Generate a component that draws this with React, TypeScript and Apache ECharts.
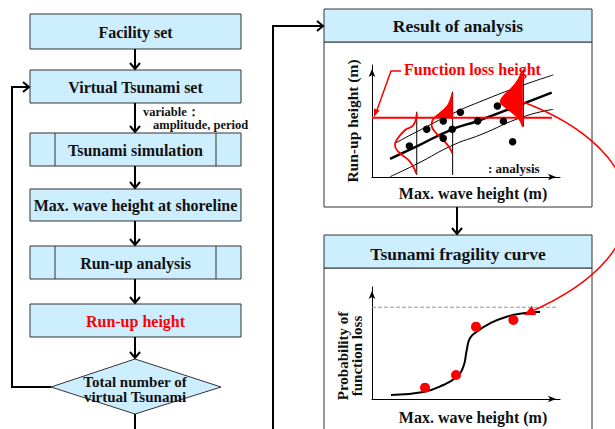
import React, { useEffect, useRef } from 'react';
import * as echarts from 'echarts';

// ---------- data (abstract units 0-100 on both axes of each small plot) ----------
const analysisPoints: number[][] = [
  [19.9, 27.7], [29.1, 42.6], [37.9, 50], [37.9, 34.5], [42.7, 42.6],
  [47, 57.8], [56.2, 50], [66.7, 63.4], [69.9, 49.7], [74.8, 31.5],
];
const meanCurve: number[][] = [[9.6, 16.1], [23.8, 27.4], [42.7, 42.6], [56.2, 50], [80.5, 65.5], [95.6, 75.3]];
const upperCurve: number[][] = [[12.2, 30.1], [23.8, 40.4], [43.2, 56.9], [57.4, 67.2], [80.5, 82.1], [96.4, 91.1]];
const lowerCurve: number[][] = [[9.6, 0.3], [23.8, 11.6], [43.2, 28.6], [57.4, 37.5], [80.5, 53.8], [96.4, 60.4]];
const analysisVerticals: number[][][] = [
  [[23.8, 58.3], [23.8, 1.8]],
  [[42.9, 76.2], [42.9, 1.8]],
  [[80.5, 95.5], [80.5, 44.9]],
];
const bell1: number[][] = [[23.8, 57], [22, 46.4], [17.6, 42], [13.1, 33], [12.2, 28.6], [14, 22.6], [19.3, 15.2], [22, 9.2], [23.5, 3]];
const bell2: number[][] = [[42.8, 75], [40.6, 64.3], [36.2, 56.9], [32.3, 50.9], [31.7, 46.4], [33.5, 40.4], [37.9, 33], [41.1, 26.5], [42.7, 21]];
const bell2Fill: number[][] = [[42.9, 52.9], [33.6, 52.9], [36.2, 56.9], [40.6, 64.3], [42.8, 75]];
const bell3: number[][] = [[80.1, 95], [77.8, 86.6], [74.3, 79.2], [69.9, 71.7], [68.4, 67.2], [70.7, 62.8], [75.2, 56.9], [78.7, 50.9], [80.2, 45]];
const functionLossLevel = 52.9;
const functionLossSpan = [0, 95.7];

const fragilityCurve: number[][] = [
  [10.1, 3.6], [27.3, 6.3], [37.9, 12.5], [45, 19.9], [48.6, 28.9], [50.4, 43.8],
  [52.1, 54.2], [55.7, 60.1], [62.8, 67.6], [71.6, 73.5], [80.5, 76.5], [89.4, 77.6],
];
const fragilityPoints: number[][] = [[28.2, 10.1], [44.7, 21.4], [55.3, 64.6], [75.2, 70.5]];
const fragilityMax = 81.9;
const fragilitySpan = [0, 98];

const flowSteps = ['Facility set', 'Virtual Tsunami set', 'Tsunami simulation', 'Max. wave height at shoreline', 'Run-up analysis', 'Run-up height'];
const diamondLines = ['Total number of', 'virtual Tsunami'];

// ---------- styles / layout ----------
const FONT = '"Liberation Serif", "Times New Roman", serif';
const BOX_FILL = '#cdeeff';
const BORDER = '#333333';
const RED = '#ff0000';
const flowLayout = [
  { y: 14, h: 35 }, { y: 70, h: 33 }, { y: 133, h: 33, sub: true },
  { y: 189, h: 32 }, { y: 246, h: 33, sub: true }, { y: 304, h: 33, red: true },
];

function txt(t: string, x: number, y: number, size: number, color = '#111', align = 'center', extra: any = {}) {
  return {
    type: 'text', x, y, z: 50, silent: true,
    style: {
      text: t, font: `bold ${size}px ${FONT}`, fill: color,
      align, verticalAlign: 'middle', textAlign: align, textVerticalAlign: 'middle', ...(extra.style || {}),
    },
    ...(extra.el || {}),
  };
}
function seg(pts: number[][], color = '#000', width = 2, z = 20) {
  return { type: 'polyline', z, silent: true, shape: { points: pts }, style: { stroke: color, lineWidth: width, fill: null } };
}
function arrowDown(x: number, y1: number, y2: number) {
  return [seg([[x, y1], [x, y2 - 1]]), seg([[x - 5, y2 - 7], [x, y2 - 1], [x + 5, y2 - 7]])];
}
function headPoly(tip: number[], from: number[], len: number, half: number, color: string) {
  const dx = tip[0] - from[0], dy = tip[1] - from[1];
  const d = Math.hypot(dx, dy);
  const ux = dx / d, uy = dy / d;
  const bx = tip[0] - ux * len, by = tip[1] - uy * len;
  return {
    type: 'polygon', z: 60, silent: true,
    shape: { points: [tip, [bx - uy * half, by + ux * half], [bx + uy * half, by - ux * half]] },
    style: { fill: color },
  };
}

function buildGraphics() {
  const g: any[] = [];
  flowSteps.forEach((label, i) => {
    const L = flowLayout[i];
    g.push({ type: 'rect', z: 10, silent: true, shape: { x: 30, y: L.y, width: 211, height: L.h }, style: { fill: BOX_FILL, stroke: BORDER, lineWidth: 1 } });
    if (L.sub) {
      g.push(seg([[55, L.y], [55, L.y + L.h]], BORDER, 1, 11));
      g.push(seg([[216, L.y], [216, L.y + L.h]], BORDER, 1, 11));
    }
    g.push(txt(label, 135.5, L.y + L.h / 2 + 0.5, 16, L.red ? RED : '#111'));
  });
  for (let i = 0; i < flowLayout.length - 1; i++) {
    const a = flowLayout[i], b = flowLayout[i + 1];
    g.push(...arrowDown(135, a.y + a.h, b.y));
  }
  // diamond
  g.push({ type: 'polygon', z: 10, silent: true, shape: { points: [[51, 387], [135, 359], [221, 387], [135, 414]] }, style: { fill: BOX_FILL, stroke: BORDER, lineWidth: 1 } });
  g.push(...arrowDown(135, 337, 359));
  g.push(txt(diamondLines.join('\n'), 135, 389.5, 15, '#111', 'center', { style: { lineHeight: 15 } }));
  g.push(seg([[135, 414], [135, 440]]));
  // loop back
  g.push(seg([[51, 387], [12, 387], [12, 87], [29, 87]]));
  g.push(seg([[23, 82], [29, 87], [23, 92]]));
  // variable text
  g.push(txt('variable：', 143, 111.5, 12.5, '#111', 'left'));
  g.push(txt('amplitude, period', 153, 125, 12.5, '#111', 'left'));
  // right connector
  g.push(seg([[273, 440], [273, 26], [323, 26]]));
  g.push(seg([[317, 21], [323, 26], [317, 31]]));

  // result box
  g.push({ type: 'rect', z: 0, silent: true, shape: { x: 324, y: 42, width: 268, height: 165 }, style: { fill: '#fff', stroke: BORDER, lineWidth: 1 } });
  g.push({ type: 'rect', z: 10, silent: true, shape: { x: 324, y: 9, width: 268, height: 33 }, style: { fill: BOX_FILL, stroke: BORDER, lineWidth: 1 } });
  g.push(txt('Result of analysis', 458, 26, 17.5));
  g.push(...arrowDown(457, 207, 235));
  // fragility box
  g.push({ type: 'rect', z: 0, silent: true, shape: { x: 324, y: 268, width: 268, height: 180 }, style: { fill: '#fff', stroke: BORDER, lineWidth: 1 } });
  g.push({ type: 'rect', z: 10, silent: true, shape: { x: 324, y: 235, width: 268, height: 33 }, style: { fill: BOX_FILL, stroke: BORDER, lineWidth: 1 } });
  g.push(txt('Tsunami fragility curve', 458, 254, 17.5));

  // analysis plot labels
  g.push(txt('Run-up height (m)', 352, 121, 15.5, '#111', 'center', { el: { rotation: Math.PI / 2 } }));
  g.push(txt('Max. wave height (m)', 473, 193, 16));
  g.push(txt(': analysis', 488, 168, 13, '#111', 'left'));
  g.push(txt('Function loss height', 404, 69, 16, RED, 'left'));
  g.push(seg([[401, 71], [391, 71], [377, 110]], RED, 1.5, 60));
  g.push(headPoly([374, 117], [391, 71], 8, 3, RED));

  // fragility plot labels
  g.push(txt('Probability of\nfunction loss', 350, 356, 15, '#111', 'center', { el: { rotation: Math.PI / 2 }, style: { lineHeight: 14 } }));
  g.push(txt('Max. wave height (m)', 473, 417, 16));

  // big red arrow
  const p0 = [523, 102], c1 = [650, 150], c2 = [672, 250], p3 = [530, 312];
  g.push({
    type: 'bezierCurve', z: 60, silent: true,
    shape: { x1: p0[0], y1: p0[1], cpx1: c1[0], cpy1: c1[1], cpx2: c2[0], cpy2: c2[1], x2: p3[0], y2: p3[1] },
    style: { stroke: RED, lineWidth: 1.5, fill: null },
  });
  g.push(headPoly([524, 315], [550, 303], 11, 5, RED));
  return g;
}

function polySeries(name: string, pts: number[][], idx: number, color: string, z: number) {
  return {
    type: 'custom', name, xAxisIndex: idx, yAxisIndex: idx, z, silent: true,
    data: pts.map((p, i) => [p[0], p[1], i]),
    renderItem: (params: any, api: any) => {
      if (params.dataIndex !== 0) return null;
      return { type: 'polygon', shape: { points: pts.map((p) => api.coord(p)) }, style: { fill: color, stroke: color, lineWidth: 0.5 } };
    },
  };
}
function lineSeries(pts: number[][], idx: number, color: string, width: number, z = 3, smooth: any = 0.5, type = 'solid') {
  return {
    type: 'line', xAxisIndex: idx, yAxisIndex: idx, data: pts, symbol: 'none', smooth, z, silent: true,
    lineStyle: { color, width, type },
  };
}

function axis(i: number) {
  return {
    type: 'value', gridIndex: i, min: 0, max: 100,
    axisLine: { show: true, onZero: false, lineStyle: { color: '#000', width: 1 }, symbol: ['none', 'arrow'], symbolSize: [5, 8], symbolOffset: [0, -4] },
    axisTick: { show: false }, axisLabel: { show: false }, splitLine: { show: false },
  };
}

export default function App() {
  const ref = useRef<HTMLDivElement>(null);
  useEffect(() => {
    const chart = echarts.init(ref.current!, null, { renderer: 'svg' });
    const series: any[] = [
      lineSeries(upperCurve, 0, '#000', 1, 2),
      lineSeries(meanCurve, 0, '#000', 2.5, 2),
      lineSeries(lowerCurve, 0, '#000', 1, 2),
      ...analysisVerticals.map((v) => lineSeries(v, 0, '#000', 1, 2, false)),
      polySeries('bell2fill', bell2Fill, 0, RED, 3),
      polySeries('bell3fill', bell3, 0, RED, 3),
      lineSeries(bell1, 0, RED, 1.8, 4),
      lineSeries(bell2, 0, RED, 1.8, 4),
      lineSeries(bell3, 0, RED, 1.8, 4),
      lineSeries([[functionLossSpan[0], functionLossLevel], [functionLossSpan[1], functionLossLevel]], 0, RED, 2, 4, false),
      { type: 'scatter', xAxisIndex: 0, yAxisIndex: 0, data: analysisPoints, symbol: 'circle', symbolSize: 7.5, itemStyle: { color: '#000', opacity: 1 }, z: 6, silent: true },
      lineSeries([[fragilitySpan[0], fragilityMax], [fragilitySpan[1], fragilityMax]], 1, '#999', 1, 2, false, 'dashed'),
      lineSeries(fragilityCurve, 1, '#000', 2, 3, 0.5),
      { type: 'scatter', xAxisIndex: 1, yAxisIndex: 1, data: fragilityPoints, symbol: 'circle', symbolSize: 10, itemStyle: { color: RED, opacity: 1 }, z: 6, silent: true },
    ];
    chart.setOption({
      animation: false,
      backgroundColor: '#ffffff',
      grid: [
        { left: 372, top: 65, width: 188, height: 112 },
        { left: 372, top: 287, width: 188, height: 112 },
      ],
      xAxis: [axis(0), axis(1)],
      yAxis: [axis(0), axis(1)],
      series,
      graphic: { elements: buildGraphics() },
    });
    return () => chart.dispose();
  }, []);
  return <div ref={ref} style={{ position: 'fixed', left: 0, top: 0, width: 615, height: 429 }} />;
}
